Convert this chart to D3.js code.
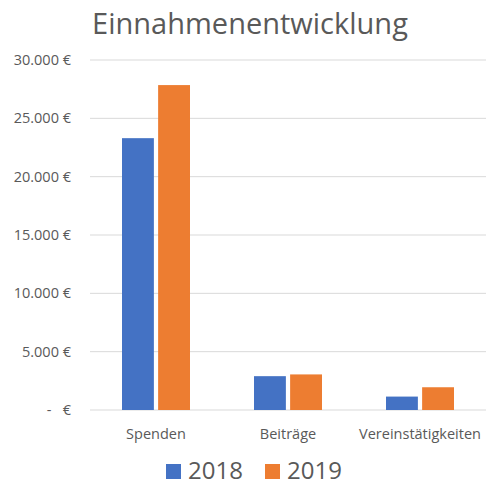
<!DOCTYPE html>
<html>
<head>
<meta charset="utf-8">
<script src="https://cdn.jsdelivr.net/npm/d3@7"></script>
<style>
  body { margin: 0; background: #fff; }
  text { font-family: "Open Sans", sans-serif; fill: #595959; }
</style>
</head>
<body>
<svg width="487" height="485"></svg>
<script>
// chart data
const categories = ["Spenden", "Beiträge", "Vereinstätigkeiten"];
const years = ["2018", "2019"];
const values2018 = [23300, 2900, 1150];
const values2019 = [27850, 3050, 1950];
const yTicks = [0, 5000, 10000, 15000, 20000, 25000, 30000];

const colors = ["#4472c4", "#ed7d31"];

const svg = d3.select("svg");

// plot area
const plotLeft = 90, plotRight = 486, plotTop = 60, plotBottom = 410;

const de = d3.formatLocale({ decimal: ",", thousands: ".", grouping: [3], currency: ["", " €"] });
const fmt = de.format(",.0f");

const x = d3.scaleBand().domain(categories).range([plotLeft, plotRight]);
const xInner = d3.scaleBand().domain(years).range([0, 68]).paddingInner(8 / 68);
const y = d3.scaleLinear().domain([0, 30000]).range([plotBottom, plotTop]);

// title
svg.append("text")
  .attr("x", 250).attr("y", 34)
  .attr("text-anchor", "middle")
  .style("font-size", "29px")
  .text("Einnahmenentwicklung");

// gridlines
svg.append("g").selectAll("line")
  .data(yTicks)
  .join("line")
  .attr("x1", plotLeft).attr("x2", plotRight)
  .attr("y1", d => y(d)).attr("y2", d => y(d))
  .attr("stroke", "#d9d9d9").attr("stroke-width", 1);

// y labels
svg.append("g").selectAll("text")
  .data(yTicks)
  .join("text")
  .attr("x", 71).attr("y", d => y(d) + 5)
  .attr("text-anchor", "end")
  .style("font-size", "14.5px")
  .style("white-space", "pre")
  .text(d => d === 0 ? "-   €" : fmt(d) + " €");

// bars
const series = [values2018, values2019];
const groups = svg.append("g").selectAll("g")
  .data(categories)
  .join("g")
  .attr("transform", c => `translate(${x(c) + (x.bandwidth() - 68) / 2},0)`);

groups.selectAll("rect")
  .data((c, i) => years.map((yr, j) => ({ yr, v: series[j][i], j })))
  .join("rect")
  .attr("x", d => xInner(d.yr))
  .attr("width", xInner.bandwidth())
  .attr("y", d => y(d.v))
  .attr("height", d => plotBottom - y(d.v))
  .attr("fill", d => colors[d.j]);

// category labels
svg.append("g").selectAll("text")
  .data(categories)
  .join("text")
  .attr("x", c => x(c) + x.bandwidth() / 2)
  .attr("y", 439)
  .attr("text-anchor", "middle")
  .style("font-size", "14.5px")
  .text(c => c);

// legend
const legend = svg.append("g").selectAll("g")
  .data(years)
  .join("g")
  .attr("transform", (d, i) => `translate(${166 + i * 99},0)`);
legend.append("rect")
  .attr("y", 464).attr("width", 15).attr("height", 15)
  .attr("fill", (d, i) => colors[i]);
legend.append("text")
  .attr("x", 22).attr("y", 479)
  .style("font-size", "24px")
  .text(d => d);
</script>
</body>
</html>
